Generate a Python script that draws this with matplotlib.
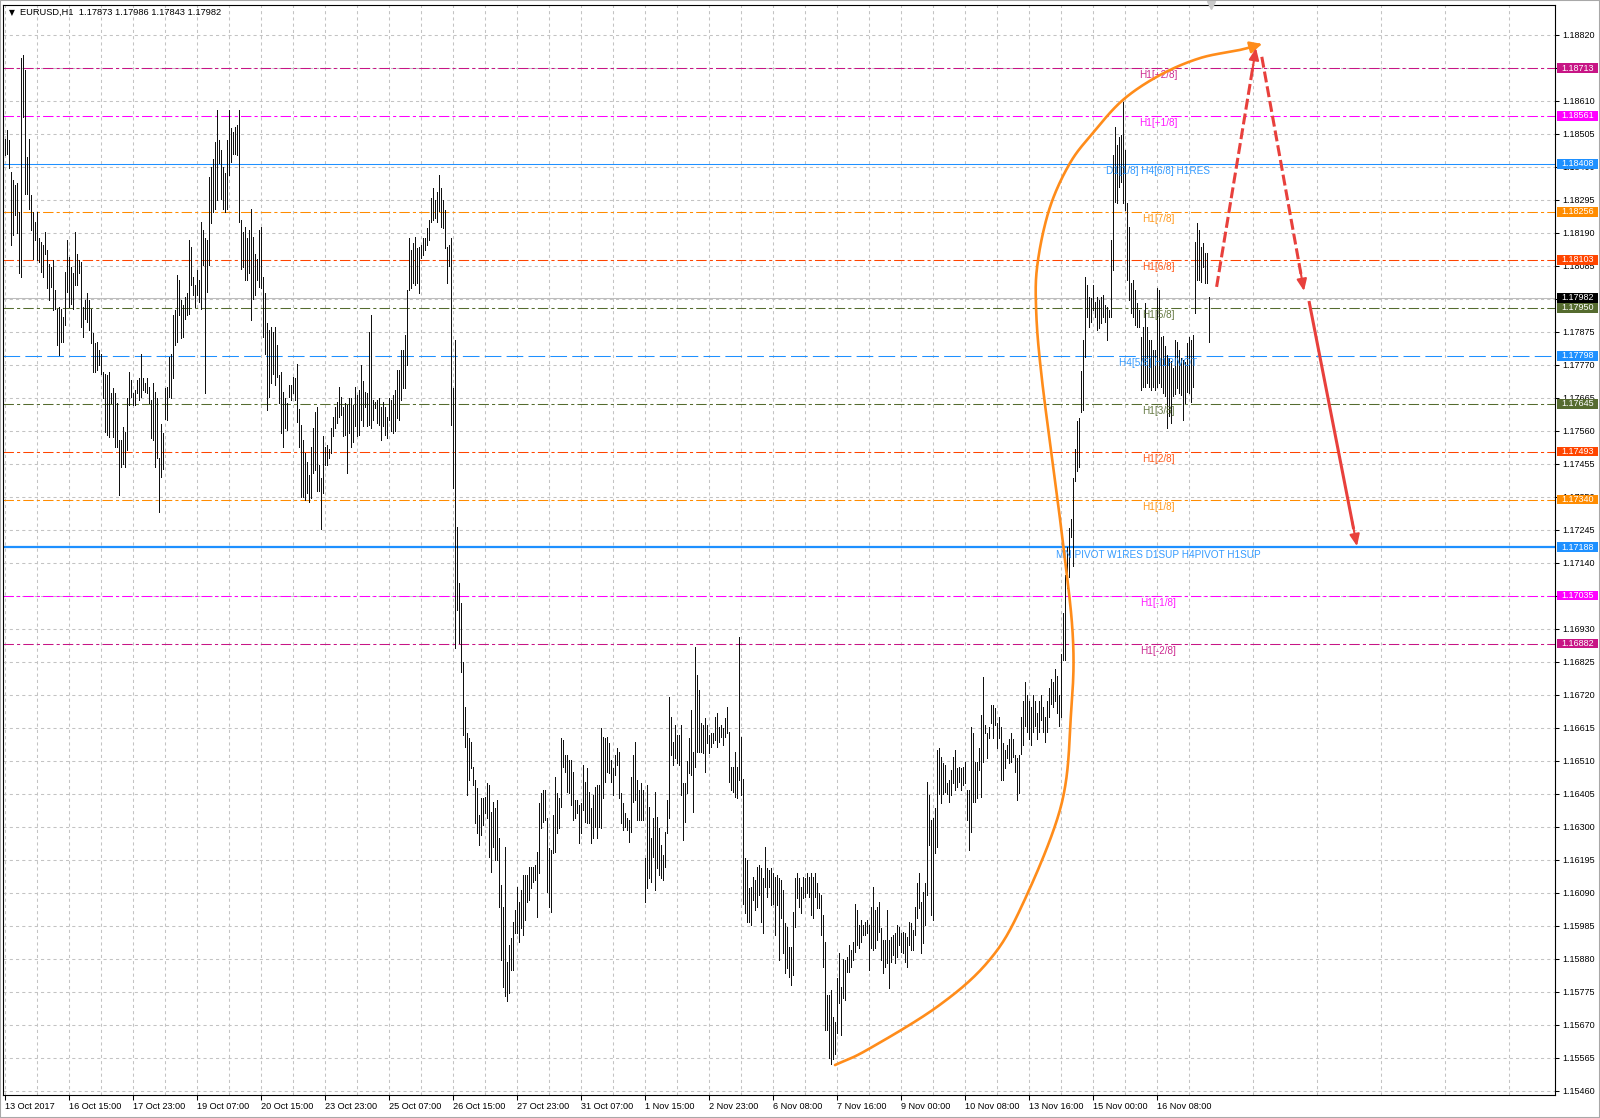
import numpy as np
import matplotlib
matplotlib.use("Agg")
import matplotlib.pyplot as plt
import matplotlib.transforms as mtransforms
from matplotlib.patches import Rectangle

plt.rcParams['font.family'] = ['Liberation Sans', 'DejaVu Sans']

# ---------------- data ----------------
header_symbol = "EURUSD,H1"
header_ohlc = [1.17873, 1.17986, 1.17843, 1.17982]

# H1 bar highs / lows, in price points (1e-5)
bar_high_pts = [
    118489,118516,118484,118383,118357,118341,118346,118256,118744,118754,
    118707,118431,118489,118309,118256,118224,118256,118171,118160,118150,
    118192,118134,118091,118081,118102,118007,117948,117954,117948,117922,
    118065,118166,118113,118081,118060,118192,118123,118102,118097,117954,
    117975,117996,117975,117948,117869,117837,117842,117816,117805,117747,
    117741,117736,117747,117678,117694,117678,117646,117529,117529,117572,
    117556,117662,117747,117720,117678,117688,117720,117726,117805,117726,
    117710,117726,117699,117657,117710,117683,117662,117471,117582,117551,
    117694,117699,117794,117805,117927,117943,118054,118038,117975,117959,
    117985,117996,118166,118145,118049,118022,118070,118038,118224,118197,
    118171,118166,118367,118399,118425,118479,118579,118484,118452,118399,
    118378,118484,118579,118521,118510,118526,118532,118579,118229,118192,
    118208,118171,118197,118266,118176,118123,118107,118197,118208,118049,
    117996,117901,117879,117890,117874,117890,117832,117736,117747,117683,
    117662,117646,117704,117704,117731,117726,117773,117630,
    117578,117530,117488,117461,117419,117509,117567,117620,117636,117451,
    117408,117541,117509,117514,117500,117567,117604,117636,117652,117700,
    117668,117636,117647,117641,117663,117663,117641,117700,117673,117689,
    117769,117716,117684,117679,117875,117928,117657,117652,117657,117663,
    117636,117652,117636,117604,117663,117657,117673,117689,117753,117753,
    117816,117816,117864,118007,118172,118135,118156,118177,118140,118145,
    118151,118172,118172,118204,118230,118299,118331,118294,118320,118373,
    118331,118294,118262,118145,118151,118172,117694,117848,117254,117074,
    117010,116825,116681,116596,116581,116570,116490,116448,116422,116337,
    116390,116390,116395,116437,116432,116347,116379,116358,116384,116262,
    116114,116045,116236,115870,115923,115944,115997,116034,116109,116061,
    116098,116146,116146,116146,116172,116172,116172,116177,116220,116374,
    116406,116416,116416,116326,116231,116225,116337,116459,116406,116390,
    116581,116575,116528,116528,116512,116512,116475,116384,116384,116368,
    116374,116496,116443,116485,116411,116358,116400,116427,116432,116432,
    116612,116586,116581,116586,116565,116512,116485,116528,116549,116538,
    116406,116374,116342,116326,116321,116459,116528,116570,116448,116416,
    116437,116416,116199,116432,116363,116262,116326,116411,116331,116294,
    116241,116209,116284,116384,116713,116650,116570,116623,116591,116591,
    116623,116437,116437,116507,116581,116671,116538,116872,116782,116734,
    116628,116623,116644,116623,116591,116597,116597,116650,116660,116618,
    116623,116612,116644,116681,116602,116490,116490,116538,116490,116904,
    116586,116450,116199,116193,116103,116109,116140,116130,116172,116177,
    116167,116135,116236,116167,116162,116167,116151,116140,116146,116135,
    116130,116098,115992,115981,115918,115918,116029,116135,116151,116135,
    116109,116140,116135,116151,116140,116151,116140,116151,116119,116087,
    116082,116018,115934,115764,115764,115780,115695,115679,115817,115896,
    115790,115880,115875,115886,115923,115907,115934,116055,116034,115987,
    116003,115987,115997,116003,115987,116045,116109,116034,116045,116061,
    115976,115939,115939,116034,115939,115949,115955,115960,115987,115981,
    115960,115965,115960,115949,115997,115992,115971,116045,116119,116151,
    116061,116093,116119,116443,116400,116321,116326,116358,116543,116549,
    116522,116501,116496,116437,116448,116480,116522,116543,116485,116490,
    116485,116490,116506,116416,116416,116618,116597,116506,116506,116549,
    116655,116777,116623,116597,116618,116687,116687,116676,116628,116649,
    116618,116565,116543,116559,116580,116596,116580,116527,116517,116527,
    116650,116700,116760,116720,116700,116680,116720,116700,116660,116700,
    116720,116680,116650,116700,116740,116770,116760,116800,116780,116720,
    116850,116980,117100,117190,117250,117280,117410,117500,117590,117600,
    117750,117848,118050,118023,117986,117981,118023,117970,117986,117975,
    117986,117991,117959,117954,117943,118166,118437,118527,118468,118495,
    118500,118606,118453,118283,118209,118028,118039,118007,117965,117943,
    117859,117890,117965,117890,117848,117848,117816,117816,118012,118007,
    117859,117860,117830,117800,117790,117780,117760,117848,117843,117816,
    117790,117784,117779,117838,117859,117848,117864,118161,118219,118198,
    118145,118156,118124,118124,117986,
]
bar_low_pts = [
    118436,118441,118394,118150,118182,118245,118187,118060,118049,118558,
    118314,118314,118266,118197,118107,118166,118102,118097,118065,118049,
    118123,118012,117975,118017,117943,117948,117832,117800,117842,117842,
    117895,118001,117954,117964,117948,118022,118022,118060,117890,117858,
    117916,117906,117879,117837,117747,117747,117752,117768,117741,117662,
    117556,117545,117540,117646,117540,117508,117508,117354,117444,117455,
    117444,117497,117641,117667,117641,117641,117678,117657,117667,117688,
    117683,117678,117646,117535,117529,117444,117471,117301,117413,117439,
    117598,117593,117667,117662,117726,117832,117842,117927,117853,117858,
    117916,117927,117932,118022,117991,117954,117991,117970,117948,118086,
    117678,118001,118086,118219,118256,118266,118293,118410,118298,118266,
    118256,118266,118372,118415,118441,118441,118436,118224,118075,118081,
    118038,118038,118060,117911,117980,117991,118038,118017,118012,117858,
    117805,117625,117667,117710,117741,117704,117731,117646,117551,117508,
    117567,117561,117667,117657,117678,117657,117588,117508,
    117350,117350,117339,117360,117334,117345,117424,117435,117366,117366,
    117246,117360,117451,117451,117472,117488,117541,117567,117583,117604,
    117610,117541,117546,117424,117551,117509,117525,117573,117541,117546,
    117594,117573,117636,117573,117578,117567,117594,117631,117583,117578,
    117530,117573,117546,117535,117594,117557,117551,117557,117599,117594,
    117657,117694,117694,117769,118007,118013,118029,118023,118029,117997,
    118108,118119,118135,118151,118166,118225,118230,118235,118225,118257,
    118209,118204,118140,118029,118082,117578,117376,116869,116989,116883,
    116793,116591,116554,116400,116448,116485,116432,116310,116278,116241,
    116273,116305,116342,116326,116204,116156,116236,116193,116193,116045,
    115875,115790,115760,115745,115770,115843,115843,115960,115960,115934,
    115976,115955,116003,116061,116066,116103,116124,116130,116013,116151,
    116294,116315,116321,116093,116045,116029,116215,116220,116278,116294,
    116363,116490,116475,116411,116406,116368,116321,116326,116342,116247,
    116278,116353,116315,116310,116310,116247,116262,116300,116262,116300,
    116294,116390,116443,116475,116469,116443,116400,116464,116496,116390,
    116310,116289,116300,116289,116252,116284,116379,116384,116321,116321,
    116321,116321,116061,116103,116135,116124,116204,116098,116167,116146,
    116135,116130,116172,116278,116326,116528,116496,116517,116501,116496,
    116400,116257,116315,116406,116469,116464,116347,116490,116538,116538,
    116538,116533,116475,116565,116533,116554,116565,116575,116554,116570,
    116586,116559,116586,116597,116443,116416,116411,116395,116390,116448,
    116400,116055,116024,115997,115997,115987,116066,116034,116045,116082,
    115997,115960,116108,116077,116108,116050,116055,115955,116050,115875,
    116008,115896,115833,115849,115822,115796,115827,115981,116071,116045,
    116024,116071,116077,116087,116077,116018,116008,116077,116040,116040,
    115955,115854,115652,115652,115565,115543,115560,115575,115642,115737,
    115636,115753,115748,115838,115838,115854,115875,115902,115923,115912,
    115933,115955,115955,115960,115843,115912,115907,115912,115939,115965,
    115875,115833,115854,115865,115785,115870,115891,115865,115886,115923,
    115902,115896,115870,115854,115923,115907,115907,115955,116008,116040,
    115896,115928,115987,116082,116241,116018,116002,116215,116236,116405,
    116374,116405,116411,116405,116379,116400,116437,116416,116427,116443,
    116416,116432,116437,116321,116225,116284,116379,116379,116390,116480,
    116395,116506,116597,116517,116581,116628,116581,116623,116549,116581,
    116448,116448,116485,116517,116501,116506,116522,116474,116384,116406,
    116530,116560,116620,116600,116580,116560,116600,116620,116580,116600,
    116640,116600,116570,116600,116650,116690,116680,116700,116660,116620,
    116650,116830,116830,117060,117095,117220,117130,117400,117430,117445,
    117620,117625,117795,117922,117890,117906,117943,117922,117880,117885,
    117901,117922,117906,117848,117922,117922,118071,118288,118283,118336,
    118352,118283,118262,118039,117975,117933,117922,117896,117890,117890,
    117690,117700,117700,117710,117700,117690,117700,117690,117700,117710,
    117700,117680,117670,117567,117605,117583,117670,117675,117695,117680,
    117673,117593,117646,117683,117678,117652,117700,117933,118039,118039,
    118034,118081,118028,118028,117843,
]

time_labels = ["13 Oct 2017", "16 Oct 15:00", "17 Oct 23:00", "19 Oct 07:00",
               "20 Oct 15:00", "23 Oct 23:00", "25 Oct 07:00", "26 Oct 15:00",
               "27 Oct 23:00", "31 Oct 07:00", "1 Nov 15:00", "2 Nov 23:00",
               "6 Nov 08:00", "7 Nov 16:00", "9 Nov 00:00", "10 Nov 08:00",
               "13 Nov 16:00", "15 Nov 00:00", "16 Nov 08:00"]
bars_per_time_label = 32
price_tick_first = 1.15460
price_tick_step = 0.00105
price_tick_count = 33

level_prices = [1.18713, 1.18561, 1.18408, 1.18256, 1.18103, 1.17950, 1.17798,
                1.17645, 1.17493, 1.17340, 1.17188, 1.17035, 1.16882]
level_names = ["H1[+2/8]", "H1[+1/8]", "D1[1/8] H4[6/8] H1RES", "H1[7/8]", "H1[6/8]",
               "H1[5/8]", "H4[5/8] H1PIVOT", "H1[3/8]", "H1[2/8]", "H1[1/8]",
               "MN PIVOT W1RES D1SUP H4PIVOT H1SUP", "H1[-1/8]", "H1[-2/8]"]
current_price = 1.17982

# hand-drawn objects, anchor points as (bar index, price)
curve_bar = [415, 431, 466, 491, 507.5, 528, 533, 534, 529, 518.5, 515.5, 516.5,
             522.5, 532.5, 544, 559, 577.5, 597.5, 617.5, 628.5]
curve_price = [1.15541, 1.15589, 1.15726, 1.15866, 1.16035, 1.16365, 1.16658, 1.16894,
               1.17202, 1.17721, 1.17956, 1.18102, 1.18271, 1.18411, 1.18507, 1.18612,
               1.18691, 1.18745, 1.18771, 1.18790]
arrow_up = [(605.8, 1.18017), (625.5, 1.18777)]
arrow_down1 = [(628.4, 1.18749), (649.5, 1.18004)]
arrow_down2 = [(652.0, 1.17972), (676.0, 1.17192)]

# ---------------- styles ----------------
W, H = 1600, 1118
L_PX, R_PX, T_PX, B_PX = 3, 1555, 5, 1095
DASHDOT = (0, (10, 3, 3, 3))
level_colors = ['#C71585', '#FF00FF', '#1E90FF', '#FF8C00', '#FF4500', '#556B2F', '#1E90FF',
                '#556B2F', '#FF4500', '#FF8C00', '#1E90FF', '#FF00FF', '#C71585']
level_styles = [DASHDOT, DASHDOT, 'solid', DASHDOT, DASHDOT, DASHDOT, (0, (16, 5)),
                DASHDOT, DASHDOT, DASHDOT, 'solid', DASHDOT, DASHDOT]
level_widths = [0.75] * 13
level_widths[10] = 1.6
ORANGE = '#FF8C1A'
RED = '#E8403C'
GRID = '#C3C3C3'

fig = plt.figure(figsize=(W / 100, H / 100), dpi=100)
ax = fig.add_axes([L_PX / W, 1 - B_PX / H, (R_PX - L_PX) / W, (B_PX - T_PX) / H])

highs = np.array(bar_high_pts) / 1e5
lows = np.array(bar_low_pts) / 1e5
n = min(len(highs), len(lows))
xs = np.arange(n)

ax.set_xlim(-1, 775)
ax.set_ylim(1.154457, 1.189139)

# grid / ticks
yt = price_tick_first + price_tick_step * np.arange(price_tick_count)
ax.set_yticks(yt)
ax.set_yticklabels([f"{v:.5f}" for v in yt])
ax.yaxis.tick_right()
ax.set_xticks(np.arange(len(time_labels)) * bars_per_time_label)
ax.set_xticklabels(time_labels)
ax.set_xticks(np.arange(16, 775, bars_per_time_label), minor=True)
for lbl in ax.get_xticklabels():
    lbl.set_ha('left')
ax.set_axisbelow(True)
ax.grid(True, which='major', axis='both', color=GRID, ls=(0, (3, 3)), lw=0.75)
ax.grid(True, which='minor', axis='x', color=GRID, ls=(0, (3, 3)), lw=0.75)
ax.tick_params(axis='y', which='major', direction='out', length=3, width=0.75,
               pad=2.5, labelsize=6.5, colors='black')
ax.tick_params(axis='x', which='major', direction='out', length=3.5, width=0.75,
               pad=1.5, labelsize=6.6, colors='black')
ax.tick_params(axis='x', which='minor', length=0)
for sp in ax.spines.values():
    sp.set_color('black')
    sp.set_linewidth(0.8)

# level lines
for p, c, s, w in zip(level_prices, level_colors, level_styles, level_widths):
    ax.axhline(p, color=c, ls=s, lw=w, zorder=2)
ax.axhline(current_price, color='#BDBDBD', lw=0.75, zorder=2)

# bars (1 px high-low lines)
vl = ax.vlines(xs, lows[:n], highs[:n], colors='#111111', lw=0.72, zorder=4)
vl.set_antialiased(False)

# level labels
for p, name, c in zip(level_prices, level_names, level_colors):
    ax.annotate(name, xy=(576.5, p), xytext=(0, -5.2), textcoords='offset points',
                ha='center', va='center', fontsize=7.2, color=c, alpha=0.9, zorder=5)

# right side price boxes (exact pixel size boxes)
px_x = 1.0 / (R_PX - L_PX)          # one pixel in axes fraction
price_per_px = (1.189139 - 1.154457) / (B_PX - T_PX)
blend = mtransforms.blended_transform_factory(ax.transAxes, ax.transData)
for p, c in list(zip(level_prices, level_colors)) + [(current_price, 'black')]:
    ax.add_patch(Rectangle((1.0 + 2 * px_x, p - 4.8 * price_per_px), 41 * px_x, 9.8 * price_per_px,
                           transform=blend, fc=c, ec='none', clip_on=False, zorder=9))
    ax.text(1.0 + 6.5 * px_x, p, f"{p:.5f}", transform=blend, ha='left', va='center',
            fontsize=6.5, color='white', clip_on=False, zorder=10)

# orange curve (Catmull-Rom through anchor points)
def catmull_rom(px, py, steps=24):
    pts = np.column_stack([px, py]).astype(float)
    ext = np.vstack([2 * pts[0] - pts[1], pts, 2 * pts[-1] - pts[-2]])
    out = []
    t = np.linspace(0, 1, steps, endpoint=False)[:, None]
    for k in range(1, len(ext) - 2):
        p0, p1, p2, p3 = ext[k - 1], ext[k], ext[k + 1], ext[k + 2]
        out.append(0.5 * (2 * p1 + (-p0 + p2) * t + (2 * p0 - 5 * p1 + 4 * p2 - p3) * t ** 2
                          + (-p0 + 3 * p1 - 3 * p2 + p3) * t ** 3))
    out.append(pts[-1][None, :])
    return np.vstack(out)

cv = catmull_rom(curve_bar, curve_price)
ax.plot(cv[:-3, 0], cv[:-3, 1], color=ORANGE, lw=1.9, zorder=6, solid_capstyle='round')
ax.annotate('', xy=tuple(cv[-1]), xytext=tuple(cv[-6]),
            arrowprops=dict(arrowstyle='-|>,head_length=0.7,head_width=0.35', color=ORANGE,
                            lw=1.9, shrinkA=0, shrinkB=0), zorder=6)

# red arrows
def red_arrow(seg, dashed):
    (x0, y0), (x1, y1) = seg
    ls = (0, (3.6, 1.3)) if dashed else 'solid'
    fx = x0 + (x1 - x0) * 0.93
    fy = y0 + (y1 - y0) * 0.93
    ax.plot([x0, fx], [y0, fy], color=RED, lw=2.2, ls=ls, zorder=7, solid_capstyle='butt')
    ax.annotate('', xy=(x1, y1), xytext=(x0 + (x1 - x0) * 0.9, y0 + (y1 - y0) * 0.9),
                arrowprops=dict(arrowstyle='-|>,head_length=0.7,head_width=0.3', color=RED,
                                lw=1.5, shrinkA=0, shrinkB=0), zorder=7)

red_arrow(arrow_up, True)
red_arrow(arrow_down1, True)
red_arrow(arrow_down2, False)

# chart shift marker at top
ax.plot([603], [1.0], transform=mtransforms.blended_transform_factory(ax.transData, ax.transAxes),
        marker='v', ms=6, color='#C8C8C8', clip_on=False, zorder=11)

# header
fig.text(8.5 / W, 1 - 12.5 / H, "\u25BC", fontsize=5.5, va='center', ha='left',
         family=['DejaVu Sans'], color='black')
fig.text(20 / W, 1 - 12.5 / H,
         f"{header_symbol}  " + " ".join(f"{v:.5f}" for v in header_ohlc),
         fontsize=6.7, va='center', ha='left', color='black')

# window frame
fig.patches.append(Rectangle((0, 0), 1, 1, transform=fig.transFigure, fill=False,
                             ec='#A8A8A8', lw=1.5))

fig.savefig("out.png", dpi=100)
